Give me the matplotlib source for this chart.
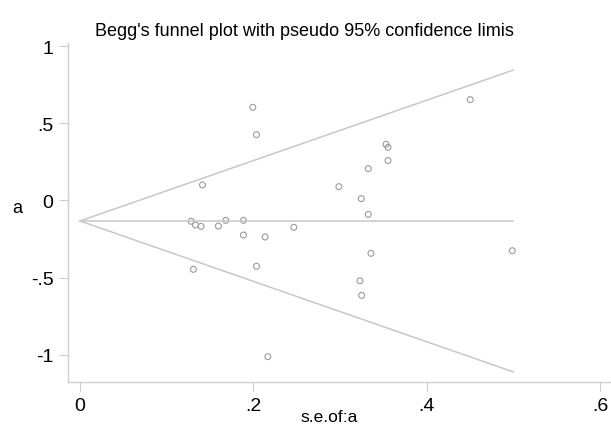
import matplotlib
matplotlib.use('Agg')
import matplotlib.pyplot as plt
import numpy as np

plt.rcParams['font.family'] = ['Liberation Sans', 'DejaVu Sans']

# study estimates (a) and their standard errors (s.e. of a)
se = [0.1994, 0.2036, 0.1413, 0.2987, 0.1282, 0.1332, 0.1397, 0.1597,
      0.1682, 0.1886, 0.1886, 0.2136, 0.2467, 0.1308, 0.2036, 0.4503,
      0.3530, 0.3553, 0.3553, 0.3326, 0.3245, 0.3326, 0.3357, 0.4988,
      0.3230, 0.3249, 0.2167]
a = [0.605, 0.427, 0.101, 0.090, -0.135, -0.159, -0.168, -0.166,
     -0.129, -0.129, -0.224, -0.237, -0.174, -0.447, -0.427, 0.655,
     0.365, 0.345, 0.259, 0.207, 0.012, -0.090, -0.343, -0.326,
     -0.521, -0.616, -1.014]
pooled = -0.133
se_max = 0.5

xticks = [0, 0.2, 0.4, 0.6]
xtick_labels = ['0', '.2', '.4', '.6']
yticks = [-1, -0.5, 0, 0.5, 1]
ytick_labels = ['-1', '-.5', '0', '.5', '1']

fig = plt.figure(figsize=(6.11, 4.27), dpi=100)
ax = fig.add_axes([0.1113, 0.103, 0.8887, 0.794])

s = np.linspace(0, se_max, 2)
line_col = '#c8c8c8'
ax.plot(s, pooled + 1.96 * s, color=line_col, lw=1.1)
ax.plot(s, pooled - 1.96 * s, color=line_col, lw=1.1)
ax.plot(s, [pooled, pooled], color=line_col, lw=1.1)
ax.scatter(se, a, s=18, facecolors='none', edgecolors='#9a9a9a', linewidths=0.8)

ax.set_xlim(-0.01385, 0.6127)
ax.set_ylim(-1.1786, 1.0227)
ax.set_xticks(xticks)
ax.set_xticklabels(xtick_labels)
ax.set_yticks(yticks)
ax.set_yticklabels(ytick_labels)
ax.tick_params(length=6.5, color='#cccccc', labelsize=14, pad=4)
for side in ['top', 'right']:
    ax.spines[side].set_visible(False)
for side in ['left', 'bottom']:
    ax.spines[side].set_color('#d0d0d0')
    ax.spines[side].set_linewidth(1)

fig.text(304 / 611, 1 - 32 / 427, "Begg's funnel plot with pseudo 95% confidence limis",
         ha='center', va='center', fontsize=13)
fig.text(329 / 611, 1 - 418 / 427, 's.e.of:a', ha='center', va='center', fontsize=12.5)
fig.text(17 / 611, 1 - 209 / 427, 'a', ha='center', va='center', fontsize=13)

fig.savefig('out.png', dpi=100)
